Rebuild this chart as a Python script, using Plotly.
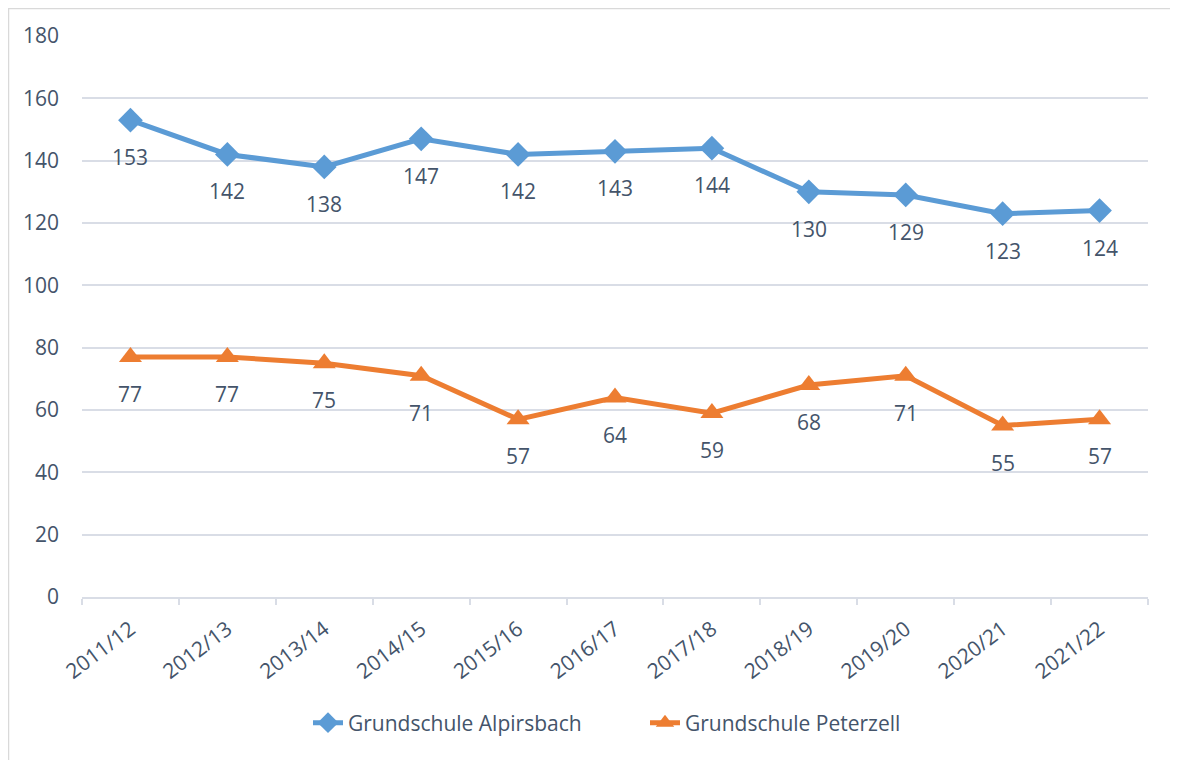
import plotly.graph_objects as go

categories = ["2011/12", "2012/13", "2013/14", "2014/15", "2015/16", "2016/17",
              "2017/18", "2018/19", "2019/20", "2020/21", "2021/22"]
alpirsbach = [153, 142, 138, 147, 142, 143, 144, 130, 129, 123, 124]
peterzell = [77, 77, 75, 71, 57, 64, 59, 68, 71, 55, 57]
y_ticks = [0, 20, 40, 60, 80, 100, 120, 140, 160, 180]

BLUE = "#5b9bd5"
ORANGE = "#ed7d31"
TEXT = "#44546a"
GRID = "#d9dde6"
FONT = "Open Sans"

# plot area (figure px): x 74..1140, y 28..589
PW, PH = 1066, 561

fig = go.Figure()
fig.add_trace(go.Scatter(
    x=categories, y=alpirsbach, mode="lines+markers", name="Grundschule Alpirsbach",
    line=dict(color=BLUE, width=5), marker=dict(symbol="diamond", size=19, color=BLUE),
))
fig.add_trace(go.Scatter(
    x=categories, y=peterzell, mode="lines+markers", name="Grundschule Peterzell",
    line=dict(color=ORANGE, width=5), marker=dict(symbol="triangle-up", size=20, color=ORANGE),
))

for series in (alpirsbach, peterzell):
    for c, v in zip(categories, series):
        fig.add_annotation(x=c, y=v, text=str(v), showarrow=False, yshift=-37,
                           font=dict(family=FONT, size=21, color=TEXT))

fig.add_shape(type="rect", xref="paper", yref="paper",
              x0=(0.5 - 74) / PW, x1=(1168 - 74) / PW,
              y0=(589 - 765) / PH, y1=(589 - 0.5) / PH,
              line=dict(color="#d9d9d9", width=1.5), fillcolor="rgba(0,0,0,0)")

fig.update_layout(
    width=1178, height=760,
    margin=dict(l=74, r=38, t=28, b=171),
    plot_bgcolor="white", paper_bgcolor="white",
    font=dict(family=FONT, size=21, color=TEXT),
    showlegend=True,
    legend=dict(orientation="h", x=(300 - 74) / PW, xanchor="left", y=-126 / PH,
                yanchor="middle", entrywidth=292, entrywidthmode="pixels",
                font=dict(family=FONT, size=21, color=TEXT), tracegroupgap=0),
)
fig.update_xaxes(
    type="category", range=[-0.5, 10.5], tickangle=-37,
    showline=True, linecolor=GRID, linewidth=1.5,
    ticks="outside", tickson="boundaries", ticklen=6, tickcolor=GRID, tickwidth=1.5,
    showgrid=False, ticklabelstandoff=10, tickfont=dict(family=FONT, size=21, color=TEXT),
)
fig.update_yaxes(
    range=[0, 180], tickvals=y_ticks, showgrid=True, gridcolor=GRID, gridwidth=1.5,
    zeroline=False, showline=False, ticks="", ticklabelstandoff=22,
    tickfont=dict(family=FONT, size=21, color=TEXT),
)

fig.write_html("out.html")
